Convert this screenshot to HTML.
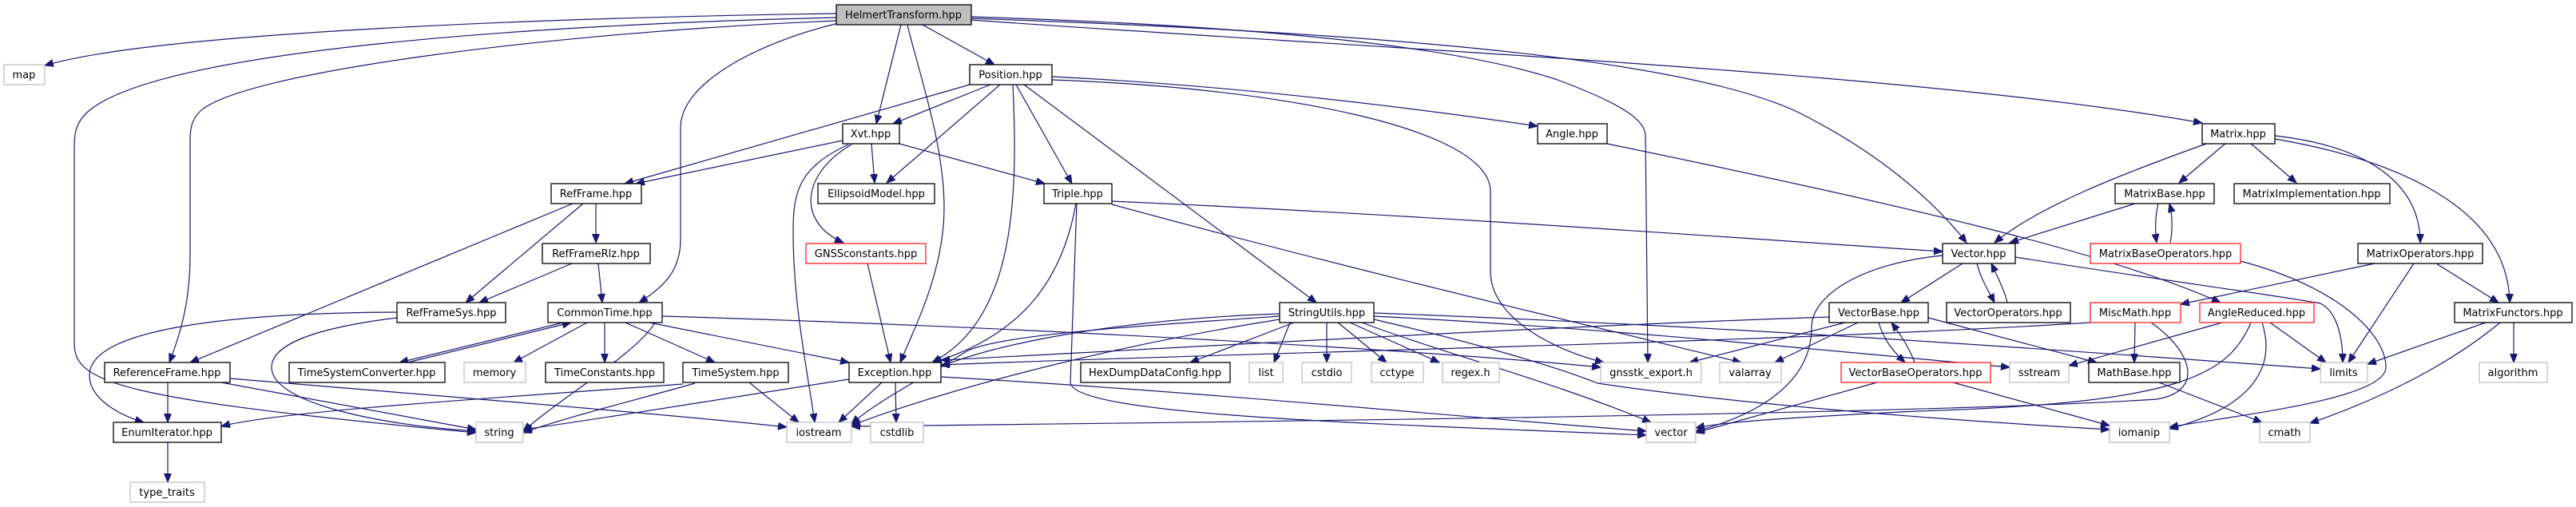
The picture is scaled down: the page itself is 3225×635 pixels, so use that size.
<!DOCTYPE html>
<html><head><meta charset="utf-8"><style>
html,body{margin:0;padding:0;background:#fff;}
svg{display:block;}
text{font-family:"DejaVu Sans","Liberation Sans",sans-serif;font-size:13px;fill:#000;text-anchor:middle;}
.n{fill:#fff;stroke:#000;stroke-width:1.3;}
.g{fill:#fff;stroke:#bfbfbf;stroke-width:1.3;}
.r{fill:#fff;stroke:#ff2020;stroke-width:1.3;}
.m{fill:#bfbfbf;stroke:#000;stroke-width:1.3;}
path{fill:none;stroke:#191970;stroke-width:1.2;marker-end:url(#a);}
</style></head><body>
<svg width="3225" height="635" viewBox="0 0 3225 635" xmlns="http://www.w3.org/2000/svg">
<defs><marker id="a" markerUnits="userSpaceOnUse" markerWidth="12" markerHeight="10" refX="11" refY="4.5" orient="auto"><polygon points="0,0 11,4.5 0,9" fill="#191970" stroke="#191970"/></marker></defs>
<g>
<!-- Helmert edges -->
<path d="M1047,17 C700,22 200,40 56,82"/>
<path d="M1047,22 C700,30 200,60 110,140 C93,155 93,170 93,190 L93,430 C93,480 150,500 596,542"/>
<path d="M1047,26 C700,40 300,90 250,140 C238,152 238,165 238,180 L238,320 C238,380 225,420 212,454"/>
<path d="M1050,29 C960,50 852,100 852,160 L852,300 C852,340 830,360 800,379"/>
<path d="M1128,31 L1097,155"/>
<path d="M1136,31 C1150,90 1182,180 1182,260 C1182,340 1145,410 1127,454"/>
<path d="M1155,31 L1245,81"/>
<path d="M1216,21 C1500,30 1800,50 1950,100 C2030,130 2060,150 2060,170 L2063,454"/>
<path d="M1216,23 C1700,40 2100,70 2250,140 C2350,190 2420,250 2462,304"/>
<path d="M1216,25 C1700,60 2400,90 2757,154"/>
<!-- Position -->
<path d="M1214,106 L782,230"/>
<path d="M1240,106 L1118,155"/>
<path d="M1252,106 L1110,229"/>
<path d="M1268,106 C1275,250 1270,400 1167,454"/>
<path d="M1272,106 L1342,230"/>
<path d="M1282,106 L1648,379"/>
<path d="M1317,96 C1500,105 1700,125 1925,158"/>
<path d="M1317,100 C1600,110 1866,160 1866,240 L1866,340 C1866,400 1950,440 2008,454"/>
<!-- Xvt -->
<path d="M1055,176 L796,230"/>
<path d="M1091,180 L1095,229"/>
<path d="M1126,180 L1308,230"/>
<path d="M1066,181 C1000,220 1000,280 1056,304"/>
<path d="M1062,181 C1000,210 993,240 993,290 C993,380 1010,460 1020,529"/>
<!-- RefFrame -->
<path d="M746,255 L746,304"/>
<path d="M730,255 L583,379"/>
<path d="M717,255 L238,454"/>
<path d="M716,330 L600,379"/>
<path d="M749,330 L754,379"/>
<!-- RefFrameSys -->
<path d="M497,391 C300,392 112,410 112,470 C112,500 150,520 180,529"/>
<path d="M497,398 C400,410 340,430 340,460 C340,500 450,530 596,540"/>
<!-- CommonTime -->
<path d="M705,404 L500,454"/>
<path d="M510,454 L715,404"/>
<path d="M735,404 L643,454"/>
<path d="M757,404 L757,454"/>
<path d="M783,404 L895,454"/>
<path d="M813,404 L1063,454"/>
<path d="M829,396 C1300,410 1800,440 2004,460"/>
<path d="M820,404 C800,440 700,500 655,540"/>
<!-- TimeSystem -->
<path d="M938,479 L1000,529"/>
<path d="M855,481 C600,500 350,515 277,534"/>
<path d="M870,480 C800,500 700,525 655,542"/>
<!-- ReferenceFrame -->
<path d="M210,479 L210,529"/>
<path d="M277,479 L596,538"/>
<path d="M288,474 C600,500 850,520 985,535"/>
<path d="M210,554 L210,604"/>
<!-- Exception -->
<path d="M1104,479 L1050,529"/>
<path d="M1121,479 L1122,529"/>
<path d="M1063,475 C900,500 750,525 655,538"/>
<path d="M1178,472 C1500,490 1800,520 2061,540"/>
<path d="M1086,330 L1115,454"/>
<!-- Triple -->
<path d="M1347,255 C1330,350 1280,420 1168,454"/>
<path d="M1348,255 L1340,480 C1350,520 1700,530 2061,545"/>
<path d="M1392,252 C1800,270 2200,300 2432,315"/>
<path d="M1392,256 C1700,340 2000,410 2180,454"/>
<!-- StringUtils -->
<path d="M1602,393 C1400,400 1250,430 1178,459"/>
<path d="M1602,396 C1400,410 1250,420 1210,440 C1180,460 1100,500 1066,531"/>
<path d="M1602,400 C1350,440 1150,500 1066,533"/>
<path d="M1620,404 L1490,454"/>
<path d="M1615,404 L1595,454"/>
<path d="M1661,404 L1661,454"/>
<path d="M1675,404 L1736,454"/>
<path d="M1690,404 L1802,454"/>
<path d="M1705,404 C1800,440 1950,480 2067,529"/>
<path d="M1720,400 C1850,430 1950,460 2000,480 C2200,510 2500,530 2641,538"/>
<path d="M1720,396 C2000,410 2300,440 2516,460"/>
<path d="M1720,392 C2200,410 2600,440 2905,462"/>
<!-- Angle -->
<path d="M2012,180 C2400,260 2650,320 2780,379"/>
<!-- Vector -->
<path d="M2457,330 L2380,379"/>
<path d="M2475,330 C2480,350 2490,365 2497,379"/>
<path d="M2513,379 C2510,365 2500,345 2493,330"/>
<path d="M2523,322 C2700,350 2850,370 2905,380 C2925,390 2933,420 2933,454"/>
<path d="M2432,320 C2330,330 2268,370 2268,410 C2268,480 2200,520 2123,540"/>
<!-- VectorBase -->
<path d="M2290,397 C1900,410 1400,440 1178,451"/>
<path d="M2310,404 L2115,454"/>
<path d="M2326,404 L2222,454"/>
<path d="M2352,404 C2358,425 2370,440 2385,454"/>
<path d="M2397,454 C2390,435 2380,420 2368,404"/>
<path d="M2414,398 L2625,454"/>
<path d="M2350,479 L2123,542"/>
<path d="M2445,479 L2641,533"/>
<!-- Matrix -->
<path d="M2765,179 C2650,220 2550,260 2497,304"/>
<path d="M2787,179 L2728,229"/>
<path d="M2817,179 L2875,229"/>
<path d="M2848,170 C2980,185 3030,240 3030,304"/>
<path d="M2848,174 C3000,200 3140,260 3142,379"/>
<path d="M2673,255 L2516,304"/>
<path d="M2702,255 C2698,270 2698,290 2700,304"/>
<path d="M2717,304 C2720,290 2720,270 2716,255"/>
<path d="M2805,327 C2930,360 2987,420 2987,460 C2987,500 2800,520 2716,535"/>
<path d="M2973,330 L2730,381"/>
<path d="M3022,330 L2940,454"/>
<path d="M3050,330 L3128,379"/>
<path d="M3112,404 L2964,456"/>
<path d="M3147,404 L3147,454"/>
<path d="M3130,404 C3050,470 2950,510 2892,530"/>
<!-- MiscMath -->
<path d="M2673,404 L2672,454"/>
<path d="M2617,404 C2200,430 1600,440 1178,457"/>
<path d="M2693,404 C2745,440 2760,490 2700,500 C2400,520 1400,530 1066,534"/>
<!-- AngleReduced -->
<path d="M2782,404 L2590,458"/>
<path d="M2842,404 L2912,454"/>
<path d="M2832,404 C2850,460 2820,510 2716,537"/>
<path d="M2818,404 C2790,470 2730,505 2400,515 C2200,525 2150,530 2123,536"/>
<path d="M2703,479 L2832,529"/>
</g>
<g>
<rect class="m" x="1047" y="6" width="169" height="25"/><text x="1131" y="23">HelmertTransform.hpp</text>
<rect class="g" x="5" y="81" width="51" height="25"/><text x="30" y="98">map</text>
<rect class="n" x="1214" y="81" width="103" height="25"/><text x="1265" y="98">Position.hpp</text>
<rect class="n" x="1055" y="155" width="71" height="25"/><text x="1090" y="172">Xvt.hpp</text>
<rect class="n" x="1925" y="155" width="87" height="25"/><text x="1968" y="172">Angle.hpp</text>
<rect class="n" x="2757" y="155" width="91" height="25"/><text x="2802" y="172">Matrix.hpp</text>
<rect class="n" x="690" y="230" width="113" height="25"/><text x="746" y="247">RefFrame.hpp</text>
<rect class="n" x="1024" y="230" width="146" height="25"/><text x="1097" y="247">EllipsoidModel.hpp</text>
<rect class="n" x="1307" y="230" width="85" height="25"/><text x="1349" y="247">Triple.hpp</text>
<rect class="n" x="2648" y="230" width="124" height="25"/><text x="2710" y="247">MatrixBase.hpp</text>
<rect class="n" x="2797" y="230" width="195" height="25"/><text x="2894" y="247">MatrixImplementation.hpp</text>
<rect class="n" x="679" y="305" width="135" height="25"/><text x="746" y="322">RefFrameRlz.hpp</text>
<rect class="r" x="1009" y="305" width="150" height="25"/><text x="1084" y="322">GNSSconstants.hpp</text>
<rect class="n" x="2432" y="305" width="91" height="25"/><text x="2477" y="322">Vector.hpp</text>
<rect class="r" x="2617" y="305" width="188" height="25"/><text x="2711" y="322">MatrixBaseOperators.hpp</text>
<rect class="n" x="2952" y="305" width="156" height="25"/><text x="3030" y="322">MatrixOperators.hpp</text>
<rect class="n" x="497" y="379" width="136" height="25"/><text x="565" y="396">RefFrameSys.hpp</text>
<rect class="n" x="686" y="379" width="143" height="25"/><text x="757" y="396">CommonTime.hpp</text>
<rect class="n" x="1602" y="379" width="118" height="25"/><text x="1661" y="396">StringUtils.hpp</text>
<rect class="n" x="2290" y="379" width="124" height="25"/><text x="2352" y="396">VectorBase.hpp</text>
<rect class="n" x="2437" y="379" width="155" height="25"/><text x="2514" y="396">VectorOperators.hpp</text>
<rect class="r" x="2617" y="379" width="113" height="25"/><text x="2673" y="396">MiscMath.hpp</text>
<rect class="r" x="2754" y="379" width="143" height="25"/><text x="2825" y="396">AngleReduced.hpp</text>
<rect class="n" x="3073" y="379" width="147" height="25"/><text x="3146" y="396">MatrixFunctors.hpp</text>
<rect class="n" x="131" y="454" width="157" height="25"/><text x="209" y="471">ReferenceFrame.hpp</text>
<rect class="n" x="362" y="454" width="195" height="25"/><text x="459" y="471">TimeSystemConverter.hpp</text>
<rect class="g" x="581" y="454" width="77" height="25"/><text x="619" y="471">memory</text>
<rect class="n" x="683" y="454" width="148" height="25"/><text x="757" y="471">TimeConstants.hpp</text>
<rect class="n" x="855" y="454" width="132" height="25"/><text x="921" y="471">TimeSystem.hpp</text>
<rect class="n" x="1063" y="454" width="115" height="25"/><text x="1120" y="471">Exception.hpp</text>
<rect class="n" x="1353" y="454" width="187" height="25"/><text x="1446" y="471">HexDumpDataConfig.hpp</text>
<rect class="g" x="1564" y="454" width="42" height="25"/><text x="1585" y="471">list</text>
<rect class="g" x="1630" y="454" width="62" height="25"/><text x="1661" y="471">cstdio</text>
<rect class="g" x="1717" y="454" width="65" height="25"/><text x="1749" y="471">cctype</text>
<rect class="g" x="1806" y="454" width="71" height="25"/><text x="1841" y="471">regex.h</text>
<rect class="g" x="2004" y="454" width="126" height="25"/><text x="2067" y="471">gnsstk_export.h</text>
<rect class="g" x="2153" y="454" width="77" height="25"/><text x="2191" y="471">valarray</text>
<rect class="r" x="2305" y="454" width="187" height="25"/><text x="2398" y="471">VectorBaseOperators.hpp</text>
<rect class="g" x="2516" y="454" width="74" height="25"/><text x="2553" y="471">sstream</text>
<rect class="n" x="2615" y="454" width="114" height="25"/><text x="2672" y="471">MathBase.hpp</text>
<rect class="g" x="2905" y="454" width="59" height="25"/><text x="2934" y="471">limits</text>
<rect class="g" x="3104" y="454" width="85" height="25"/><text x="3146" y="471">algorithm</text>
<rect class="n" x="142" y="529" width="135" height="25"/><text x="209" y="546">EnumIterator.hpp</text>
<rect class="g" x="596" y="529" width="59" height="25"/><text x="625" y="546">string</text>
<rect class="g" x="985" y="529" width="81" height="25"/><text x="1025" y="546">iostream</text>
<rect class="g" x="1090" y="529" width="66" height="25"/><text x="1123" y="546">cstdlib</text>
<rect class="g" x="2061" y="529" width="62" height="25"/><text x="2092" y="546">vector</text>
<rect class="g" x="2641" y="529" width="75" height="25"/><text x="2678" y="546">iomanip</text>
<rect class="g" x="2829" y="529" width="63" height="25"/><text x="2860" y="546">cmath</text>
<rect class="g" x="163" y="604" width="93" height="25"/><text x="209" y="621">type_traits</text>
</g>
</svg>
</body></html>
